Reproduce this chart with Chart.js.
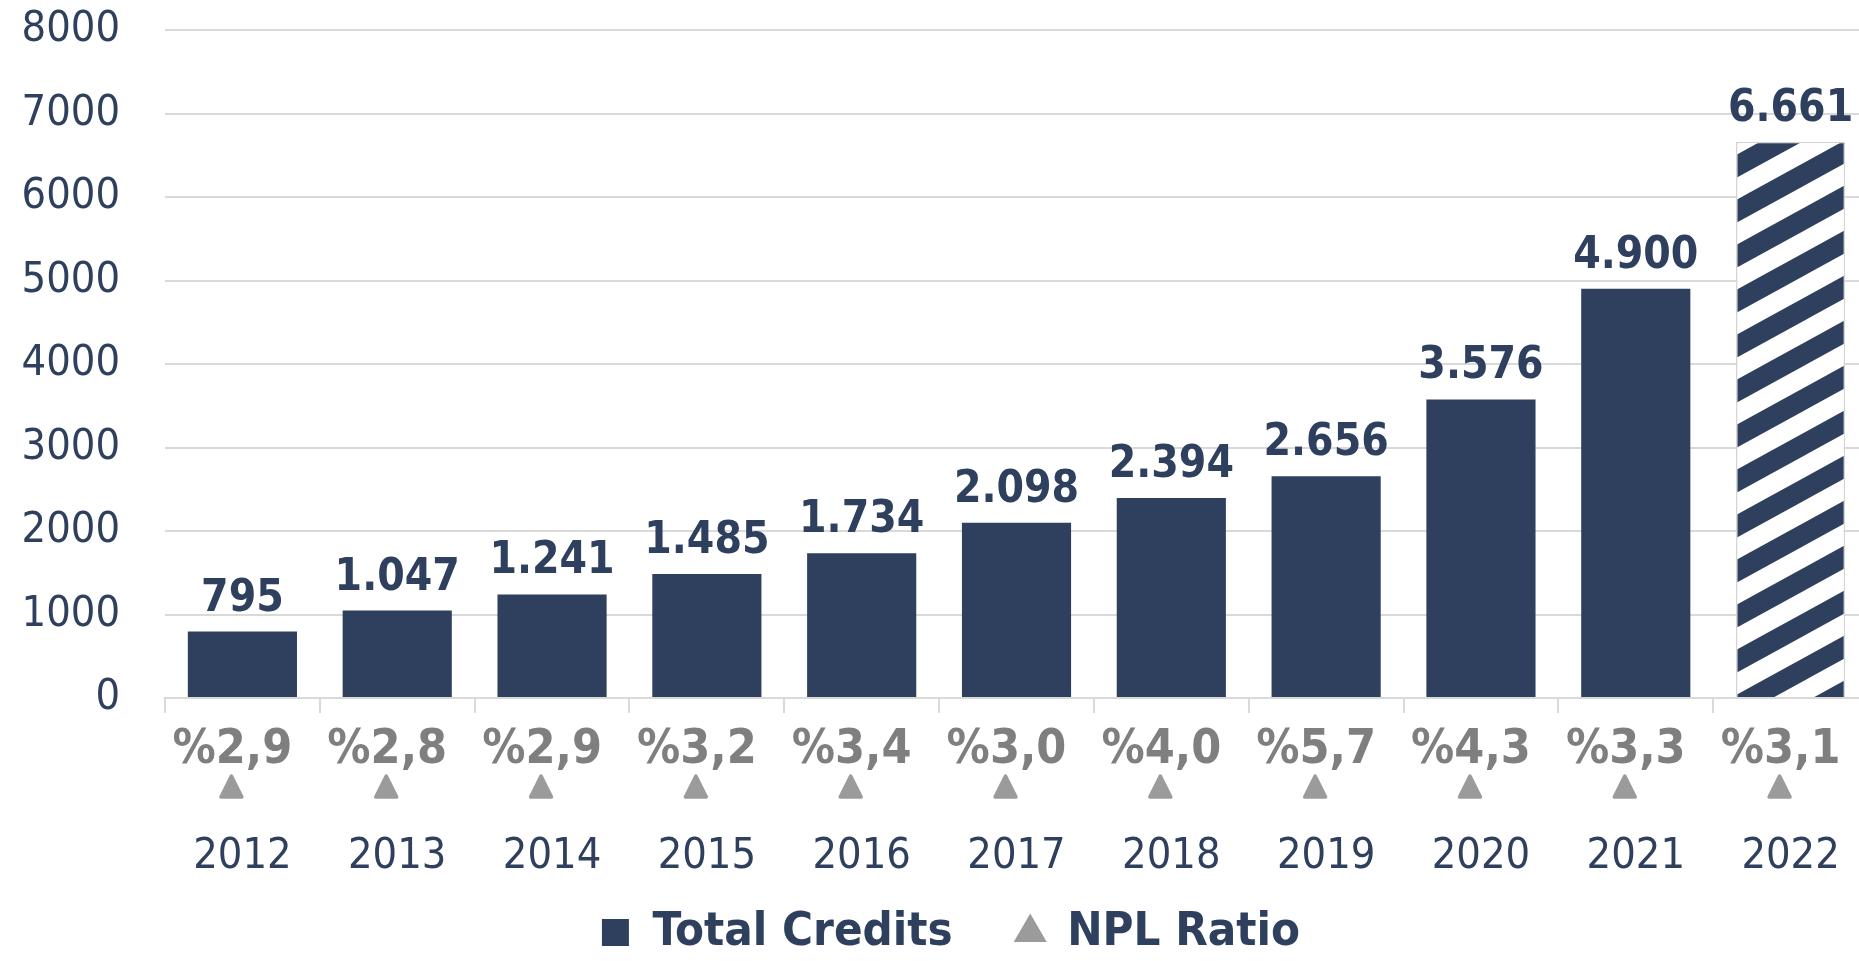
<!DOCTYPE html>
<html><head><meta charset="utf-8">
<script src="https://cdn.jsdelivr.net/npm/chart.js@4.4.1/dist/chart.umd.min.js"></script>
<style>
html,body{margin:0;padding:0;overflow:hidden;background:#fff;width:1859px;height:961px}
#wrap{position:absolute;left:0;top:0;width:1868px;height:966px}
</style></head><body>
<div id="wrap"><canvas id="c"></canvas></div>
<script>
// ---- data ----
const years = ['2012','2013','2014','2015','2016','2017','2018','2019','2020','2021','2022'];
const totalCredits = [795, 1047, 1241, 1485, 1734, 2098, 2394, 2656, 3576, 4900, 6661];
const nplRatio = [2.9, 2.8, 2.9, 3.2, 3.4, 3.0, 4.0, 5.7, 4.3, 3.3, 3.1];
const yMin = 0, yMax = 8000, yStep = 1000;
const hatchedIndex = [10];
const seriesNames = ['Total Credits', 'NPL Ratio'];

// ---- style ----
const NAVY = '#2e405e';
const GRID = '#d9d9d9';
const NPL_TEXT = '#7f7f7f';
const NPL_MARK = '#9b9b9b';
const FONT = '"DejaVu Sans Condensed", "DejaVu Sans", sans-serif';

const canvas = document.getElementById('c');
const ctx0 = canvas.getContext('2d');

// hatch pattern (diagonal white stripes on navy)
function makeHatch() {
  const w = 82, h = 45, a = 5.7, wht = 22;
  const pc = document.createElement('canvas');
  pc.width = w; pc.height = h;
  const p = pc.getContext('2d');
  p.fillStyle = NAVY; p.fillRect(0, 0, w, h);
  p.fillStyle = '#ffffff';
  for (let k = -2; k <= 2; k++) {
    p.beginPath();
    p.moveTo(0, a + h * k);
    p.lineTo(w, a - h + h * k);
    p.lineTo(w, a - h + wht + h * k);
    p.lineTo(0, a + wht + h * k);
    p.closePath(); p.fill();
  }
  return ctx0.createPattern(pc, 'repeat');
}
const hatch = makeHatch();

const fmtThousands = n => n >= 1000 ? Math.floor(n / 1000) + '.' + String(n % 1000).padStart(3, '0') : String(n);
const fmtNpl = v => '%' + v.toFixed(1).replace('.', ',');

const barColors = totalCredits.map((v, i) => hatchedIndex.includes(i) ? hatch : NAVY);
const barBorderColors = totalCredits.map((v, i) => hatchedIndex.includes(i) ? '#d4d4d4' : NAVY);
const barBorderWidths = totalCredits.map((v, i) => hatchedIndex.includes(i) ? 1.5 : 0);

const noLabelClip = {
  id: 'noLabelClip',
  beforeDraw(chart) {
    chart.scales.x._computeLabelArea = function () { return undefined; };
    chart.scales.y._computeLabelArea = function () { return undefined; };
  }
};

const valueLabels = {
  id: 'valueLabels',
  afterDatasetsDraw(chart) {
    const ctx = chart.ctx;
    const meta = chart.getDatasetMeta(0);
    ctx.save();
    ctx.font = 'bold 44px ' + FONT;
    ctx.fillStyle = NAVY;
    ctx.textAlign = 'center';
    ctx.textBaseline = 'alphabetic';
    meta.data.forEach((bar, i) => {
      ctx.fillText(fmtThousands(totalCredits[i]), bar.x, bar.y - 21);
    });
    ctx.restore();
  }
};

const nplRow = {
  id: 'nplRow',
  afterDraw(chart) {
    const ctx = chart.ctx;
    const xs = chart.scales.x;
    const base = chart.chartArea.bottom;
    ctx.save();
    ctx.font = 'bold 48px ' + FONT;
    ctx.textAlign = 'center';
    ctx.textBaseline = 'alphabetic';
    nplRatio.forEach((v, i) => {
      const cx = xs.getPixelForValue(i) - 10;
      ctx.fillStyle = NPL_TEXT;
      ctx.fillText(fmtNpl(v), cx, base + 65);
      // triangle marker
      const tx = cx - 1, top = base + 78, bot = base + 99, hw = 10.5;
      ctx.beginPath();
      ctx.moveTo(tx, top);
      ctx.lineTo(tx + hw, bot);
      ctx.lineTo(tx - hw, bot);
      ctx.closePath();
      ctx.fillStyle = NPL_MARK;
      ctx.strokeStyle = NPL_MARK;
      ctx.lineJoin = 'round';
      ctx.lineWidth = 3.5;
      ctx.fill(); ctx.stroke();
    });
    ctx.restore();
  }
};

new Chart(canvas, {
  type: 'bar',
  data: {
    labels: years,
    datasets: [
      {
        label: seriesNames[0],
        data: totalCredits,
        backgroundColor: barColors,
        borderColor: barBorderColors,
        borderWidth: barBorderWidths,
        categoryPercentage: 1.0,
        barPercentage: 0.705
      }
    ]
  },
  options: {
    responsive: true,
    maintainAspectRatio: false,
    animation: false,
    layout: { padding: { top: 30, left: 34, right: 0, bottom: 0 } },
    plugins: {
      tooltip: { enabled: false },
      legend: {
        position: 'bottom',
        onClick: null,
        labels: {
          usePointStyle: true,
          boxWidth: 27,
          boxHeight: 27,
          padding: 64,
          color: NAVY,
          font: { family: FONT, size: 47, weight: 'bold' },
          generateLabels: () => [
            { text: seriesNames[0], fillStyle: NAVY, strokeStyle: NAVY, lineWidth: 0, pointStyle: 'rect', fontColor: NAVY, datasetIndex: 0 },
            { text: seriesNames[1], fillStyle: NPL_MARK, strokeStyle: NPL_MARK, lineWidth: 0, pointStyle: 'triangle', fontColor: NAVY, datasetIndex: 1 }
          ]
        }
      }
    },
    scales: {
      x: {
        offset: true,
        grid: { display: true, offset: true, drawOnChartArea: false, drawTicks: true, tickLength: 15, color: GRID, lineWidth: 2 },
        border: { display: true, color: GRID, width: 2 },
        ticks: {
          color: NAVY, font: { family: FONT, size: 43, lineHeight: 1.2 }, padding: 15,
          maxRotation: 0, autoSkip: false,
          callback: (v, i) => ['', '', years[i]]
        },
        afterFit(scale) { scale.height = 147; }
      },
      y: {
        min: yMin, max: yMax,
        grid: { color: GRID, lineWidth: 2, drawTicks: true, tickLength: 45, tickColor: 'rgba(0,0,0,0)' },
        border: { display: false },
        ticks: { stepSize: yStep, color: NAVY, font: { family: FONT, size: 43 }, padding: 0, callback: v => String(v) },
        afterFit(scale) { scale.width = 131; }
      }
    }
  },
  plugins: [noLabelClip, valueLabels, nplRow]
});
</script>
</body></html>
